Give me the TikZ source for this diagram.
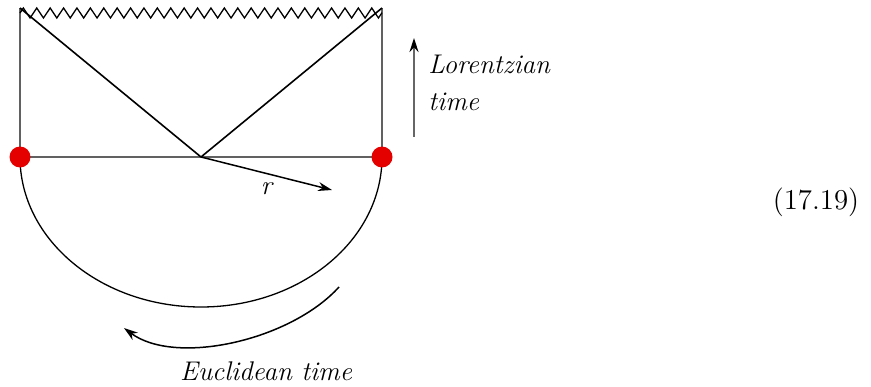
\documentclass[tikz,border=0pt]{standalone}
\usetikzlibrary{arrows.meta,positioning,decorations.pathmorphing}

\begin{document}
\begin{tikzpicture}[
  x=0.5pt, y=0.5pt,
  edge/.style={draw=black!62, line width=1.2pt},
  ray/.style={draw=black, line width=0.8pt},
  bdry/.style={circle, fill=red!90!black, minimum size=10.5pt, inner sep=0pt},
  lbl/.style={font=\itshape\fontsize{13.5}{18.5}\selectfont, align=left, inner sep=0pt},
  arr/.style={-{Stealth[length=7pt, width=4.5pt]}, line width=0.75pt}
]
  \useasboundingbox (0,0) rectangle (871,386);
  % corners of the strip
  \coordinate (tl) at (20,378);
  \coordinate (tr) at (382,378);
  \coordinate (zl) at (20,373);
  \coordinate (zr) at (382,373);
  \coordinate (pl) at (20,229);
  \coordinate (pr) at (382,229);
  \coordinate (o) at (201,229);
  \coordinate (rend) at (332,196);

  \draw[edge] (pl) -- (tl);
  \draw[edge] (pr) -- (tr);
  \draw[edge] (pl) -- (pr);
  \draw[ray, line width=0.65pt, decorate,
    decoration={zigzag, segment length=6.7pt, amplitude=2.5pt}] (zl) -- (zr);
  \draw[ray] (tl) -- (o);
  \draw[ray] (o) -- (tr);
  \draw[arr] (o) -- node[pos=0.5, below=4pt, lbl] {r} (rend);

  % euclidean half
  \draw[ray, line width=0.65pt] (pl) arc[start angle=180, end angle=360, x radius=181, y radius=150];
  \node[bdry] (lft) at (pl) {};
  \node[bdry] (rgt) at (pr) {};

  \coordinate (es) at (339,99);
  \coordinate (ee) at (124,58);
  \draw[arr] (es) .. controls (290,45) and (175,20) .. (ee);
  \node[lbl, anchor=base] (eucl) at (266,6) {Euclidean time};

  % lorentzian arrow
  \coordinate (lb) at (414,249);
  \coordinate (lt) at (414,348);
  \draw[arr, draw=black!60, -{Stealth[length=7pt, width=4.5pt, black]}] (lb) -- (lt);
  \node[lbl, anchor=north west] (lor) at (428,331) {Lorentzian\\time};

  \node[anchor=base, font=\fontsize{14.4}{17}\selectfont] (eqno) at (816,177) {(17.19)};
\end{tikzpicture}
\end{document}
